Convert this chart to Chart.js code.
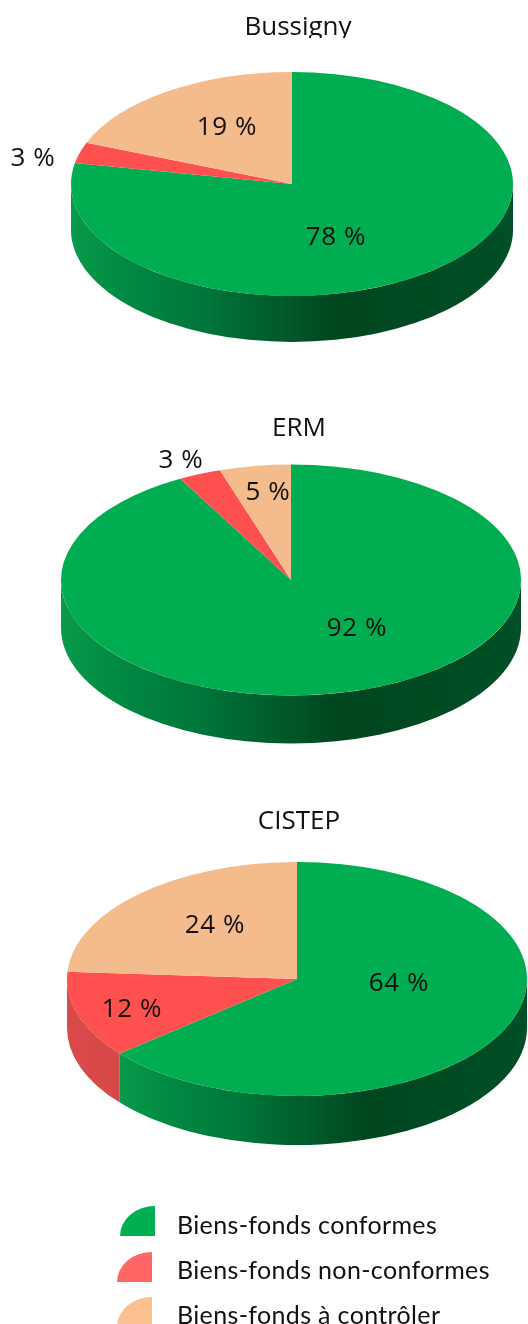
<!DOCTYPE html>
<html>
<head>
<meta charset="utf-8">
<script src="https://cdn.jsdelivr.net/npm/chart.js@4"></script>
<style>
  html, body { margin: 0; padding: 0; background: #fff; }
  #page { position: relative; width: 528px; height: 1324px; overflow: hidden; }
  canvas { position: absolute; left: 0; }
  .title { position: absolute; left: 0; width: 528px; text-align: center; overflow: hidden;
           font: 26px "Open Sans", sans-serif; color: #111; line-height: 34px; }
  .swatch { position: absolute; width: 35px; height: 30px; border-top-left-radius: 100% 100%; }
  .legend { position: absolute; left: 177px; font: 25px Lato, sans-serif; letter-spacing: 0.35px; color: #111;
            line-height: 30px; white-space: nowrap; }
</style>
</head>
<body>
<div id="page"></div>
<script>
// values
const categories = ['Biens-fonds conformes', 'Biens-fonds non-conformes', 'Biens-fonds à contrôler'];
const titles = ['Bussigny', 'ERM', 'CISTEP'];
const bussigny = [78, 3, 19];
const erm = [92, 3, 5];
const cistep = [64, 12, 24];
const series = [bussigny, erm, cistep];

const sliceColors = ['#00AD50', '#FF5050', '#F4BC8C'];
const legendColors = ['#00AF50', '#FF6666', '#FBC08F'];

// page geometry of each pie, and where the % labels sit (page px, text centre)
const CANVAS_H = 480;
const pies = [
  { cx: 292, cy: 184, rx: 221, ry: 112, depth: 46, titleX: 298, titleY: 8, titleH: 30,
    labels: [[336, 238], [33, 159], [227, 128]] },
  { cx: 291, cy: 580, rx: 230, ry: 115.5, depth: 48, titleX: 299, titleY: 409, titleH: 34,
    labels: [[357, 629], [181, 461], [268, 493]] },
  { cx: 297, cy: 979, rx: 230, ry: 117, depth: 49, titleX: 299, titleY: 802, titleH: 34,
    labels: [[399, 984], [132, 1010], [215, 926]] }
];

function wallFill(ctx, i, x0, x1) {
  const g = ctx.createLinearGradient(x0, 0, x1, 0);
  if (i === 0) {
    g.addColorStop(0, '#0a9a4b');
    g.addColorStop(0.12, '#008a42');
    g.addColorStop(0.3, '#00763a');
    g.addColorStop(0.6, '#00461f');
    g.addColorStop(1, '#004f26');
  } else {
    g.addColorStop(0, '#D94A4A');
    g.addColorStop(1, '#D84848');
  }
  return g;
}

// squashes the round pie into an ellipse and draws the side wall under it
const tiltPlugin = {
  id: 'tilt',
  beforeDatasetsDraw(chart, args, opts) {
    const ctx = chart.ctx;
    const p = opts.pie;
    const cy = CANVAS_H / 2;
    chart.getDatasetMeta(0).data.forEach((arc, i) => {
      const { startAngle, endAngle, x } = arc.getProps(['startAngle', 'endAngle', 'x']);
      const a = Math.max(startAngle, 0);
      const b = Math.min(endAngle, Math.PI);
      if (b <= a) return;
      const x0 = x + p.rx * Math.cos(b);
      const x1 = x + p.rx * Math.cos(a);
      ctx.beginPath();
      ctx.ellipse(x, cy, p.rx, p.ry, 0, a, b);
      ctx.ellipse(x, cy + p.depth, p.rx, p.ry, 0, b, a, true);
      ctx.closePath();
      ctx.fillStyle = wallFill(ctx, i, x0, x1);
      ctx.fill();
    });
    ctx.save();
    ctx.translate(0, cy);
    ctx.scale(1, p.ry / p.rx);
    ctx.translate(0, -cy);
  },
  afterDatasetsDraw(chart) {
    chart.ctx.restore();
  },
  afterDraw(chart, args, opts) {
    const ctx = chart.ctx;
    const top = opts.pie.cy - CANVAS_H / 2;
    ctx.save();
    ctx.font = '26px "Open Sans", sans-serif';
    ctx.letterSpacing = '0.6px';
    ctx.fillStyle = '#111';
    ctx.textAlign = 'center';
    ctx.textBaseline = 'middle';
    chart.data.datasets[0].data.forEach((v, i) => {
      const pos = opts.pie.labels[i];
      ctx.fillText(v + ' %', pos[0], pos[1] - top);
    });
    ctx.restore();
  }
};

const page = document.getElementById('page');

pies.forEach((p, n) => {
  const canvas = document.createElement('canvas');
  canvas.style.top = (p.cy - CANVAS_H / 2) + 'px';
  canvas.style.width = '528px';
  canvas.style.height = CANVAS_H + 'px';
  canvas.width = 528;
  canvas.height = CANVAS_H;
  page.appendChild(canvas);

  new Chart(canvas.getContext('2d'), {
    type: 'pie',
    data: {
      labels: categories,
      datasets: [{ data: series[n], backgroundColor: sliceColors, borderWidth: 0 }]
    },
    options: {
      responsive: false,
      animation: false,
      maintainAspectRatio: false,
      layout: {
        padding: {
          left: p.cx - p.rx,
          right: 528 - p.cx - p.rx,
          top: CANVAS_H / 2 - p.rx,
          bottom: CANVAS_H / 2 - p.rx
        }
      },
      plugins: {
        legend: { display: false },
        tooltip: { enabled: false },
        tilt: { pie: p }
      }
    },
    plugins: [tiltPlugin]
  });

  const t = document.createElement('div');
  t.className = 'title';
  t.textContent = titles[n];
  t.style.top = p.titleY + 'px';
  t.style.height = p.titleH + 'px';
  t.style.left = (p.titleX - 264) + 'px';
  page.appendChild(t);
});

// legend, the swatches are little quarter pies
const swatchPos = [[120, 1206], [117, 1252], [117, 1297]];
const legendY = [1209, 1254, 1299];
categories.forEach((name, i) => {
  const s = document.createElement('div');
  s.className = 'swatch';
  s.style.left = swatchPos[i][0] + 'px';
  s.style.top = swatchPos[i][1] + 'px';
  s.style.background = legendColors[i];
  page.appendChild(s);

  const l = document.createElement('div');
  l.className = 'legend';
  l.style.top = legendY[i] + 'px';
  l.textContent = name;
  page.appendChild(l);
});
</script>
</body>
</html>
